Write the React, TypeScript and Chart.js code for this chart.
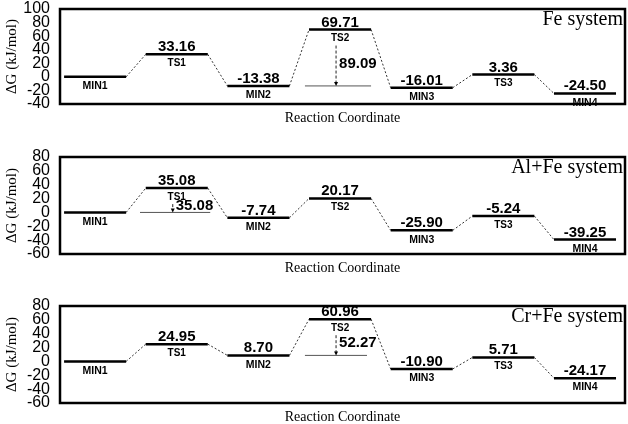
import React, { useEffect, useRef } from 'react';
import { Chart, registerables } from 'chart.js';

Chart.register(...registerables);

// ---- data ----
const steps = ['MIN1', 'TS1', 'MIN2', 'TS2', 'MIN3', 'TS3', 'MIN4'];
const feValues = [0, 33.16, -13.38, 69.71, -16.01, 3.36, -24.5];
const alFeValues = [0, 35.08, -7.74, 20.17, -25.9, -5.24, -39.25];
const crFeValues = [0, 24.95, 8.7, 60.96, -10.9, 5.71, -24.17];
const systemNames = ['Fe system', 'Al+Fe system', 'Cr+Fe system'];
const barrierLabels = ['89.09', '35.08', '52.27'];
const barrierBase = [2, 0, 2];
const barrierTop = [3, 1, 3];
const yMins = [-40, -60, -60];
const yMaxs = [100, 80, 80];
const yStep = 20;

const allValues = [feValues, alFeValues, crFeValues];

// ---- layout ----
const LEVEL_START = 0.05;
const LEVEL_END = 0.81;
const LEVEL_MID = (LEVEL_START + LEVEL_END) / 2;
const X_MAX = 6.92;
const panelLayout = [
  { top: 0, height: 125, padTop: 9, refStart: 3.0, refEnd: 3.81 },
  { top: 140, height: 135, padTop: 17, refStart: 0.98, refEnd: 1.84 },
  { top: 289, height: 135, padTop: 17, refStart: 3.0, refEnd: 3.76 },
];

const SANS = '"Liberation Sans", Arial, sans-serif';
const SERIF = '"Liberation Serif", "Times New Roman", serif';

function Panel({ idx }: { idx: number }) {
  const ref = useRef<HTMLCanvasElement | null>(null);
  const lay = panelLayout[idx];

  useEffect(() => {
    const values = allValues[idx];
    const base = barrierBase[idx];
    const topI = barrierTop[idx];

    const levelData: any[] = [];
    values.forEach((v, i) => {
      levelData.push({ x: i + LEVEL_START, y: v });
      levelData.push({ x: i + LEVEL_END, y: v });
      levelData.push({ x: i + LEVEL_END + 0.01, y: null });
    });
    const connData: any[] = [];
    for (let i = 0; i < values.length - 1; i++) {
      connData.push({ x: i + LEVEL_END, y: values[i] });
      connData.push({ x: i + 1 + LEVEL_START, y: values[i + 1] });
      connData.push({ x: i + 1 + LEVEL_START + 0.005, y: null });
    }
    const refData = [
      { x: lay.refStart, y: values[base] },
      { x: lay.refEnd, y: values[base] },
    ];

    const labelPlugin = {
      id: 'labels' + idx,
      afterDatasetsDraw(chart: any) {
        const { ctx, scales } = chart;
        const xs = scales.x;
        const ys = scales.y;
        ctx.save();
        ctx.fillStyle = '#000';
        values.forEach((v, i) => {
          const cx = xs.getPixelForValue(i + LEVEL_MID);
          const py = ys.getPixelForValue(v);
          if (i > 0) {
            ctx.font = 'bold 15px ' + SANS;
            ctx.textAlign = 'center';
            ctx.textBaseline = 'alphabetic';
            ctx.fillText(v.toFixed(2), cx, py - 3);
          }
          const isTS = steps[i].startsWith('TS');
          ctx.font = 'bold ' + (isTS ? 10 : 10.5) + 'px ' + SANS;
          ctx.textAlign = 'center';
          ctx.textBaseline = 'top';
          ctx.fillText(steps[i], cx, py + 4);
        });
        // barrier arrow
        const ax = xs.getPixelForValue(topI + LEVEL_MID) - 4;
        const y1 = ys.getPixelForValue(values[topI]) + 16;
        const y2 = ys.getPixelForValue(values[base]);
        ctx.strokeStyle = '#222';
        ctx.lineWidth = 1;
        ctx.setLineDash([3, 2]);
        ctx.beginPath();
        ctx.moveTo(ax, y1);
        ctx.lineTo(ax, y2 - 3);
        ctx.stroke();
        ctx.setLineDash([]);
        ctx.beginPath();
        ctx.moveTo(ax - 2, y2 - 4);
        ctx.lineTo(ax + 2, y2 - 4);
        ctx.lineTo(ax, y2);
        ctx.closePath();
        ctx.fill();
        ctx.font = 'bold 15px ' + SANS;
        ctx.textAlign = 'left';
        ctx.textBaseline = 'middle';
        ctx.fillText(barrierLabels[idx], ax + 3, (y1 + y2) / 2 - 2);
        ctx.restore();
      },
      afterDraw(chart: any) {
        const { ctx, chartArea } = chart;
        ctx.save();
        ctx.strokeStyle = '#000';
        ctx.lineWidth = 2.5;
        ctx.strokeRect(chartArea.left, chartArea.top, chartArea.right - chartArea.left, chartArea.bottom - chartArea.top);
        ctx.fillStyle = '#000';
        ctx.font = '20px ' + SERIF;
        ctx.textAlign = 'right';
        ctx.textBaseline = 'middle';
        ctx.fillText(systemNames[idx], chartArea.right - 2, chartArea.top + 11);
        ctx.restore();
      },
    };

    const chart = new Chart(ref.current as HTMLCanvasElement, {
      type: 'scatter',
      data: {
        datasets: [
          {
            data: levelData,
            showLine: true,
            borderColor: '#000',
            borderWidth: 2.5,
            pointRadius: 0,
            spanGaps: false,
          } as any,
          {
            data: refData,
            showLine: true,
            borderColor: '#555',
            borderWidth: 1,
            pointRadius: 0,
          } as any,
          {
            data: connData,
            showLine: true,
            borderColor: '#333',
            borderWidth: 1,
            borderDash: [2, 2],
            pointRadius: 0,
            spanGaps: false,
          } as any,
        ],
      },
      options: {
        responsive: false,
        animation: false,
        events: [],
        layout: { padding: { top: lay.padTop, right: 3, left: 0, bottom: 0 } },
        plugins: { legend: { display: false }, tooltip: { enabled: false } },
        scales: {
          x: {
            type: 'linear',
            min: 0,
            max: X_MAX,
            grid: { display: false, drawTicks: false },
            border: { display: false },
            ticks: { display: false },
            title: {
              display: true,
              text: 'Reaction Coordinate',
              color: '#000',
              font: { family: SERIF, size: 14, lineHeight: 1 },
              padding: { top: 0, bottom: 0 },
            },
            afterFit: (s: any) => {
              s.height = 21;
              s.paddingLeft = 0;
              s.paddingRight = 0;
              s.paddingTop = 0;
              s.paddingBottom = 0;
            },
          },
          y: {
            min: yMins[idx],
            max: yMaxs[idx],
            grid: { display: false, drawTicks: false },
            border: { display: false },
            ticks: {
              stepSize: yStep,
              autoSkip: false,
              color: '#000',
              padding: 10,
              font: { family: SANS, size: 16, lineHeight: 1 },
            },
            title: {
              display: true,
              text: 'ΔG (kJ/mol)',
              color: '#000',
              font: { family: SERIF, size: 15 },
              padding: { top: 3, bottom: 0 },
            },
            afterFit: (s: any) => {
              s.width = 60;
              s.paddingTop = 0;
              s.paddingBottom = 0;
              s.paddingLeft = 0;
              s.paddingRight = 0;
            },
          },
        },
      } as any,
      plugins: [labelPlugin],
    });
    return () => chart.destroy();
  }, [idx]);

  return (
    <canvas
      ref={ref}
      width={628}
      height={lay.height}
      style={{ position: 'absolute', left: 0, top: lay.top, width: 628, height: lay.height, display: 'block' }}
    />
  );
}

export default function App() {
  return (
    <div
      style={{
        position: 'fixed',
        left: 0,
        top: 0,
        width: 628,
        height: 424,
        background: '#fff',
        overflow: 'hidden',
      }}
    >
      <Panel idx={0} />
      <Panel idx={1} />
      <Panel idx={2} />
    </div>
  );
}
